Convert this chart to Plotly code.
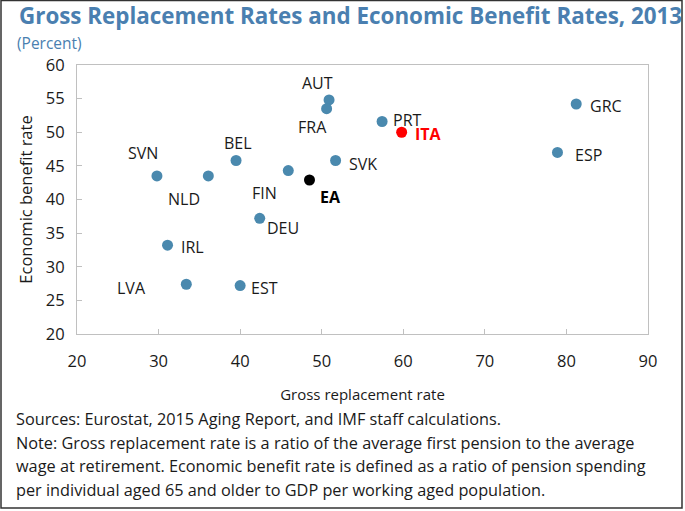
import plotly.graph_objects as go

countries = ["SVN", "NLD", "BEL", "FIN", "DEU", "IRL", "LVA", "EST", "AUT", "FRA", "SVK", "PRT", "GRC", "ESP"]
gross_rate = [29.8, 36.1, 39.5, 45.9, 42.4, 31.1, 33.4, 40.0, 50.9, 50.6, 51.7, 57.4, 81.2, 78.9]
benefit_rate = [43.5, 43.5, 45.8, 44.3, 37.2, 33.2, 27.4, 27.2, 54.8, 53.5, 45.8, 51.6, 54.2, 47.0]
ea_point = ("EA", 48.5, 42.9)
ita_point = ("ITA", 59.8, 50.0)

# label offsets in pixels (dx, dy with dy positive = up)
offsets = {
    "SVN": (-14, 23), "NLD": (-24, -23), "BEL": (2, 18), "FIN": (-24, -22),
    "DEU": (23, -10), "IRL": (25, -2), "LVA": (-55, -4), "EST": (24, -2),
    "AUT": (-12, 17), "FRA": (-14, -18), "SVK": (27, -3), "PRT": (25, 1),
    "GRC": (30, -2), "ESP": (31, -3), "EA": (21, -17), "ITA": (27, -2),
}

W, H = 685, 511
L, R, T, B = 77, 37, 65, 177
PW, PH = W - L - R, H - T - B

def px(x):
    return (x - L) / PW

def py(y):
    return (H - B - y) / PH

BLUE = "#4a89ae"
TITLE_BLUE = "#4a7fb0"
FONT = "Open Sans"
TXT = "#1a1a1a"

fig = go.Figure()
fig.add_trace(go.Scatter(x=gross_rate, y=benefit_rate, mode="markers",
                         marker=dict(color=BLUE, size=11), hoverinfo="skip", showlegend=False))
fig.add_trace(go.Scatter(x=[ea_point[1]], y=[ea_point[2]], mode="markers",
                         marker=dict(color="black", size=11), showlegend=False))
fig.add_trace(go.Scatter(x=[ita_point[1]], y=[ita_point[2]], mode="markers",
                         marker=dict(color="red", size=11), showlegend=False))

annotations = []
for c, xv, yv in zip(countries, gross_rate, benefit_rate):
    dx, dy = offsets[c]
    annotations.append(dict(x=xv, y=yv, xref="x", yref="y", text=c, showarrow=False,
                            xshift=dx, yshift=dy, font=dict(family=FONT, size=16, color=TXT)))
for (c, xv, yv), col in [(ea_point, "black"), (ita_point, "red")]:
    dx, dy = offsets[c]
    annotations.append(dict(x=xv, y=yv, xref="x", yref="y", text="<b>" + c + "</b>", showarrow=False,
                            xshift=dx, yshift=dy, font=dict(family=FONT, size=16, color=col)))

annotations.append(dict(x=px(17), y=py(16), xref="paper", yref="paper", xanchor="left", yanchor="middle",
                        text="<b>Gross Replacement Rates and Economic Benefit Rates, 2013</b>",
                        showarrow=False, font=dict(family=FONT, size=22.4, color=TITLE_BLUE)))
annotations.append(dict(x=px(15), y=py(43), xref="paper", yref="paper", xanchor="left", yanchor="middle",
                        text="(Percent)", showarrow=False, font=dict(family=FONT, size=15.5, color=TITLE_BLUE)))

notes = [
    "Sources: Eurostat, 2015 Aging Report, and IMF staff calculations.",
    "Note: Gross replacement rate is a ratio of the average first pension to the average",
    "wage at retirement. Economic benefit rate is defined as a ratio of pension spending",
    "per individual aged 65 and older to GDP per working aged population.",
]
for i, line in enumerate(notes):
    annotations.append(dict(x=px(14), y=py(419 + 23.5 * i), xref="paper", yref="paper",
                            xanchor="left", yanchor="middle", text=line, showarrow=False,
                            font=dict(family=FONT, size=16.3, color=TXT)))

fig.update_layout(
    width=W, height=H,
    margin=dict(l=L, r=R, t=T, b=B),
    paper_bgcolor="white", plot_bgcolor="white",
    font=dict(family=FONT, color=TXT),
    annotations=annotations,
    shapes=[dict(type="rect", xref="paper", yref="paper",
                 x0=px(1), x1=px(682), y0=py(508), y1=py(0.5),
                 line=dict(color="#333333", width=1.5))],
    xaxis=dict(range=[20, 90], dtick=10, tick0=20, showgrid=False, zeroline=False,
               showline=True, linecolor="#c0c0c0", mirror=True, linewidth=1,
               ticks="inside", ticklen=5, tickcolor="#c0c0c0", ticklabelstandoff=12,
               tickfont=dict(size=16.5, color=TXT),
               title=dict(text="Gross replacement rate", font=dict(size=15), standoff=18)),
    yaxis=dict(range=[20, 60], dtick=5, tick0=20, showgrid=False, zeroline=False,
               showline=True, linecolor="#c0c0c0", mirror=True, linewidth=1,
               ticks="inside", ticklen=5, tickcolor="#c0c0c0", ticklabelstandoff=8,
               tickfont=dict(size=16.5, color=TXT),
               title=dict(text="Economic benefit rate", font=dict(size=16.5), standoff=9)),
)

fig.write_html("out.html", post_script="document.body.style.margin='0';",
               config={"displayModeBar": False})
